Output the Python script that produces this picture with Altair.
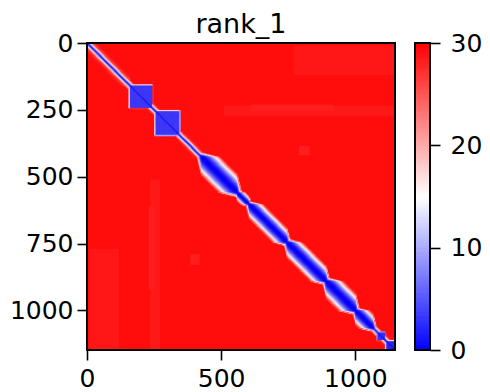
import numpy as np
import pandas as pd
import altair as alt

N = 1148          # matrix size
STEP = 4          # cell size of the rendered grid
BG_VALUE = 29.3   # saturated background distance

# uniform square domains (start, end, value)
block_start = [160, 256, 1083, 1116]
block_end = [242, 345, 1110, 1148]
block_value = [3.5, 3.5, 3.0, 2.5]

# lens-shaped domains along the diagonal
lens_start = [427, 560, 605, 747, 892, 1002]
lens_end = [560, 605, 747, 892, 1002, 1068]
lens_width = [50, 22, 38, 42, 46, 38]

# hazy, near-diagonal stretches
haze_start = [0, 345]
haze_end = [160, 427]
haze_base = [22, 23]
haze_width = [40, 35]

# lighter background patches (mirrored about the diagonal)
patch_x0 = [235, 10, 230, 385]
patch_x1 = [272, 120, 255, 420]
patch_y0 = [510, 770, 612, 790]
patch_y1 = [1148, 1148, 920, 830]
patch_v = [28.6, 28.7, 28.3, 28.3]

colorbar_ticks = [0, 10, 20, 30]
x_ticks = [0, 500, 1000]
y_ticks = [0, 250, 500, 750, 1000]

# ---- build the cell table from the domain lists ----
c = np.arange(0, N, STEP) + STEP / 2.0
I, J = np.meshgrid(c, c)
K = np.abs(I - J)
V = 1.4 * K  # the diagonal line


def outside(a, b):
    dx = np.maximum(np.maximum(a - I, 0), I - b)
    dy = np.maximum(np.maximum(a - J, 0), J - b)
    return dx + dy


for a, b, val in zip(block_start, block_end, block_value):
    V = np.minimum(V, val + 6.0 * outside(a, b))
for a, b, w in zip(lens_start, lens_end, lens_width):
    kk = K + 3.0 * outside(a, b)
    V = np.minimum(V, 15.0 * (kk / w) ** 1.8)
for a, b, base, w in zip(haze_start, haze_end, haze_base, haze_width):
    V = np.minimum(V, base + (30 - base) * (K / w) + 2.0 * outside(a, b))

BG = np.full_like(V, BG_VALUE)
for x0, x1, y0, y1, pv in zip(patch_x0, patch_x1, patch_y0, patch_y1, patch_v):
    m1 = (I >= x0) & (I <= x1) & (J >= y0) & (J <= y1)
    m2 = (J >= x0) & (J <= x1) & (I >= y0) & (I <= y1)
    BG[m1 | m2] = np.minimum(BG[m1 | m2], pv)

mask = V < BG - 0.3
cells = pd.DataFrame({
    "x": (I[mask] - STEP / 2).round(1),
    "x2": (I[mask] + STEP / 2).round(1),
    "y": (J[mask] - STEP / 2).round(1),
    "y2": (J[mask] + STEP / 2).round(1),
    "v": np.clip(V[mask], 0, 30).round(2),
})

bg_rows = [{"x": 0, "x2": N, "y": 0, "y2": N, "v": BG_VALUE}]
for x0, x1, y0, y1, pv in zip(patch_x0, patch_x1, patch_y0, patch_y1, patch_v):
    bg_rows.append({"x": x0, "x2": x1, "y": y0, "y2": y1, "v": pv})
    bg_rows.append({"x": y0, "x2": y1, "y": x0, "y2": x1, "v": pv})
bg = pd.DataFrame(bg_rows)
frame = pd.DataFrame([{"x": 0, "x2": N, "y": 0, "y2": N}])

FONT = "DejaVu Sans"
cscale = alt.Scale(domain=[0, 15, 30], range=["#0000ff", "#ffffff", "#ff0000"],
                   interpolate="rgb", clamp=True)
xs = alt.Scale(domain=[0, N], nice=False, zero=False)
ys = alt.Scale(domain=[0, N], nice=False, zero=False, reverse=True)
ax_common = dict(labelFont=FONT, labelFontSize=25, labelColor="black", tickColor="black",
                 tickWidth=1.6, tickSize=10, domain=False, grid=False,
                 labelFlush=False, title=None, format="d")

xenc = alt.X("x:Q", scale=xs, axis=alt.Axis(values=x_ticks, labelPadding=6, **ax_common))
yenc = alt.Y("y:Q", scale=ys, axis=alt.Axis(values=y_ticks, labelPadding=4, **ax_common))

bg_layer = alt.Chart(bg).mark_rect().encode(
    x=xenc, x2="x2:Q", y=yenc, y2="y2:Q",
    color=alt.Color("v:Q", scale=cscale, legend=None),
)
cell_layer = alt.Chart(cells).mark_rect(strokeWidth=0.5).encode(
    x="x:Q", x2="x2:Q", y="y:Q", y2="y2:Q",
    color=alt.Color("v:Q", scale=cscale, legend=None),
    stroke=alt.Stroke("v:Q", scale=cscale, legend=None),
)
frame_layer = alt.Chart(frame).mark_rect(filled=False, stroke="black", strokeWidth=2).encode(
    x="x:Q", x2="x2:Q", y="y:Q", y2="y2:Q",
)

heat = alt.layer(bg_layer, cell_layer, frame_layer).properties(
    width=308, height=307,
    title=alt.TitleParams("rank_1", font=FONT, fontSize=27, fontWeight="normal",
                          color="black", offset=8, dy=16),
)

cb_vals = np.arange(0, 30, 0.25)
cb = pd.DataFrame({"y": cb_vals, "y2": cb_vals + 0.25, "v": cb_vals + 0.125})
cb_frame = pd.DataFrame([{"y": colorbar_ticks[0], "y2": colorbar_ticks[-1]}])
cb_scale = alt.Scale(domain=[0, 30], nice=False, zero=False)
cbar = alt.layer(
    alt.Chart(cb).mark_rect().encode(
        y=alt.Y("y:Q", scale=cb_scale,
                axis=alt.Axis(values=colorbar_ticks, orient="right", labelPadding=10,
                              **ax_common)),
        y2="y2:Q",
        color=alt.Color("v:Q", scale=cscale, legend=None),
        stroke=alt.Stroke("v:Q", scale=cscale, legend=None),
    ),
    alt.Chart(cb_frame).mark_rect(filled=False, stroke="black", strokeWidth=2).encode(
        y="y:Q", y2="y2:Q",
    ),
).properties(width=15, height=307)

chart = alt.hconcat(heat, cbar, spacing=20, bounds="flush").resolve_scale(
    color="shared"
).properties(
    autosize=alt.AutoSizeParams(type="none"),
    padding={"left": 79, "top": 35, "right": 395, "bottom": 341},
    background="white",
).configure_view(stroke=None)

chart.save("out.html", embed_options={"renderer": "svg", "actions": False})
